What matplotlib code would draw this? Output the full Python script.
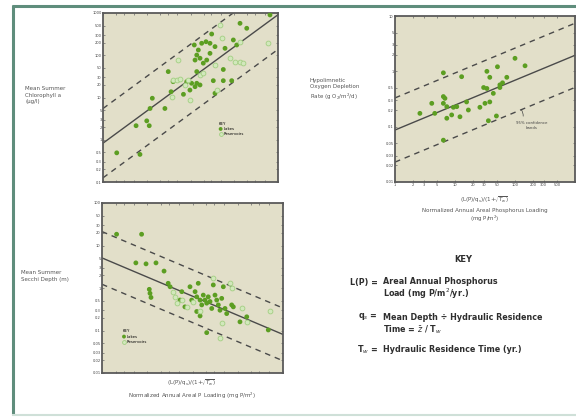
import matplotlib
matplotlib.use("Agg")
import matplotlib.pyplot as plt
import numpy as np
from matplotlib.lines import Line2D
from matplotlib.ticker import FixedLocator, FuncFormatter, NullLocator

# ---------------- data ----------------
# Panel 1: chlorophyll vs normalized loading
chl_lake_x = [2.06, 7.0, 5.7, 10, 11.4, 11.9, 13.4, 26, 31, 36, 40, 69, 82, 97, 106, 139, 127, 139,
              151, 122, 180, 226, 279, 305, 165, 196, 235, 279, 363, 332, 363, 562, 615, 562, 875,
              953, 1140, 1355, 1930, 6560, 139, 165, 127]
chl_lake_y = [0.49, 0.45, 2.15, 2.8, 2.15, 5.5, 9.6, 5.5, 41, 13.7, 23.7, 11.9, 23.7, 15, 21.7, 41, 77,
              101, 133, 175, 192, 209, 192, 318, 85, 65, 77, 111, 160, 25, 12.6, 25, 146, 46, 25,
              230, 175, 570, 435, 900, 21.7, 19.8, 18]
chl_res_x = [53, 363, 473, 517, 800, 1040, 1355, 1610, 6010, 40, 48, 58, 37, 97, 165, 196, 397, 1355, 75, 89]
chl_res_y = [77, 59, 520, 252, 85, 70, 70, 65, 192, 26, 26, 28, 10.4, 8.7, 34, 37, 15, 209, 19.8, 26]
chl_coef, chl_exp, chl_band = 0.83, 0.76, 0.82

# Panel 2: hypolimnetic oxygen depletion rate
hod_x = [2.6, 4.1, 4.6, 6.4, 6.4, 6.8, 6.4, 7.3, 7.3, 8.8, 9.4, 10.7, 12.1, 12.9, 15.6, 16.7, 26,
         31.6, 38, 34, 30, 34, 38, 51, 43.5, 56, 56, 62, 73, 100, 147, 6.4, 36, 49]
hod_y = [0.174, 0.264, 0.174, 0.94, 0.35, 0.325, 0.264, 0.23, 0.142, 0.163, 0.224, 0.23, 0.151, 0.80,
         0.28, 0.20, 0.224, 0.264, 0.28, 1.0, 0.51, 0.49, 0.78, 1.21, 0.40, 0.51, 0.57, 0.62, 0.78,
         1.72, 1.26, 0.057, 0.128, 0.156]
hod_coef, hod_exp, hod_band = 0.087, 0.45, 0.58

# Panel 3: Secchi depth
sec_lake_x = [2.1, 7.5, 5.6, 9.4, 15.6, 23.5, 29, 32, 11.1, 11.5, 12.1, 58, 68, 88, 114, 124, 134, 147,
              160, 173, 189, 206, 223, 244, 266, 288, 314, 343, 372, 405, 442, 480, 523, 570, 735,
              798, 1580, 1120, 4730, 206, 124, 147, 96, 53]
sec_lake_y = [18.4, 18.4, 3.9, 3.7, 3.9, 2.5, 1.29, 1.07, 0.93, 0.75, 0.60, 0.82, 0.36, 1.07, 0.82, 0.62,
              1.29, 0.52, 0.40, 0.68, 0.52, 0.44, 0.62, 0.48, 0.33, 1.18, 0.68, 0.52, 0.40, 0.30, 0.57,
              1.07, 0.33, 0.25, 0.40, 0.36, 0.21, 0.16, 0.103, 0.089, 0.28, 0.22, 0.52, 0.52]
sec_res_x = [36.5, 41, 45, 58, 74, 288, 674, 735, 442, 405, 1220, 1580, 5160, 147, 104]
sec_res_y = [0.82, 0.62, 0.44, 0.52, 0.36, 1.69, 1.29, 0.98, 0.148, 0.066, 0.33, 0.16, 0.28, 0.28, 0.48]
sec_coef, sec_exp, sec_band = 5.1, -0.45, 0.62

# tick labels
subs_labels = [1, 2, 3, 5]

# ---------------- style ----------------
BG = "#e2dfc9"
LAKE = "#5c9e22"
RES_EDGE = "#a3cf82"
RES_FACE = "#d2e8bc"
LINEC = "#4a4a4a"
TXT = "#555555"

fig = plt.figure(figsize=(5.76, 4.17), dpi=100)
fig.patch.set_facecolor("white")

W, H = 576.0, 417.0


def px_axes(x0, y0, x1, y1):
    return fig.add_axes([x0 / W, 1 - y1 / H, (x1 - x0) / W, (y1 - y0) / H])


def fmt(v, pos):
    return "%g" % v


def style_log_axes(ax, xlim, ylim, xlabels=False):
    ax.set_facecolor(BG)
    ax.set_xscale("log")
    ax.set_yscale("log")
    ax.set_xlim(*xlim)
    ax.set_ylim(*ylim)
    for sp in ax.spines.values():
        sp.set_color("#5a5a5a")
        sp.set_linewidth(1.3)
    def ticks(lo, hi):
        out = []
        for e in range(int(np.floor(np.log10(lo))), int(np.ceil(np.log10(hi))) + 1):
            for s in subs_labels:
                v = s * 10.0 ** e
                if lo * 0.999 <= v <= hi * 1.001:
                    out.append(v)
        return out
    ax.xaxis.set_major_locator(FixedLocator(ticks(*xlim)))
    ax.yaxis.set_major_locator(FixedLocator(ticks(*ylim)))
    ax.xaxis.set_minor_locator(NullLocator())
    ax.yaxis.set_minor_locator(NullLocator())
    ax.yaxis.set_major_formatter(FuncFormatter(fmt))
    if xlabels:
        ax.xaxis.set_major_formatter(FuncFormatter(
            lambda v, p: "" if v >= xlim[1] * 0.999 else "%g" % v))
    else:
        ax.xaxis.set_major_formatter(FuncFormatter(lambda v, p: ""))
    ax.tick_params(which="both", direction="in", length=1.5, width=0.5, colors="#666666",
                   labelsize=2.6, labelcolor="#444444", pad=1, top=True, right=True)


def reg_lines(ax, xlim, coef, expo, band):
    xs = np.logspace(np.log10(xlim[0]), np.log10(xlim[1]), 50)
    yfit = coef * xs ** expo
    ax.plot(xs, yfit, color=LINEC, lw=1.0, zorder=2)
    for f in (10 ** band, 10 ** -band):
        ax.plot(xs, yfit * f, color=LINEC, lw=1.0, ls=(0, (4, 3.5)), zorder=2)


# ---------------- Panel 1 ----------------
ax1 = px_axes(103, 13, 278, 182)
xl1, yl1 = (1, 10000), (0.1, 1000)
style_log_axes(ax1, xl1, yl1)
reg_lines(ax1, xl1, chl_coef, chl_exp, chl_band)
ax1.scatter(chl_lake_x, chl_lake_y, s=12, color=LAKE, edgecolors="none", zorder=3, label="Lakes")
ax1.scatter(chl_res_x, chl_res_y, s=12, facecolors=RES_FACE, edgecolors=RES_EDGE, linewidths=0.6,
            zorder=3, label="Reservoirs")
leg1 = ax1.legend(loc="upper left", bbox_to_anchor=(0.65, 0.37), frameon=False, fontsize=2.8,
                  title="KEY", title_fontsize=2.8, handletextpad=0.3, borderpad=0.1,
                  labelspacing=0.3, markerscale=0.8, handlelength=0.8)
leg1._legend_box.align = "left"
fig.text(25 / W, 1 - 95 / H, "Mean Summer\nChlorophyll a\n(µg/l)", fontsize=4, color=TXT,
         ha="left", va="center", linespacing=1.3)

# ---------------- Panel 2 ----------------
ax2 = px_axes(395, 16, 575, 182)
xl2, yl2 = (1, 1000), (0.01, 10)
style_log_axes(ax2, xl2, yl2, xlabels=True)
reg_lines(ax2, xl2, hod_coef, hod_exp, hod_band)
ax2.scatter(hod_x, hod_y, s=12, color=LAKE, edgecolors="none", zorder=3)
ax2.text(0.76, 0.34, "95% confidence\nbands", transform=ax2.transAxes, fontsize=2.8,
         color="#444444", ha="center", va="center", linespacing=1.2)
ax2.annotate("", xy=(0.69, 0.45), xytext=(0.71, 0.38), xycoords="axes fraction",
             arrowprops=dict(arrowstyle="-", color="#444444", lw=0.5,
                             connectionstyle="arc3,rad=0.3"))
fig.text(310 / W, 1 - 90 / H, "Hypolimnetic\nOxygen Depletion\nRate (g O$_2$/m$^2$/d)", fontsize=4,
         color=TXT, ha="left", va="center", linespacing=1.3)
fig.text(485 / W, 1 - 200 / H, r"(L(P)/q$_s$)/(1+$\sqrt{T_w}$)", fontsize=4, color=TXT,
         ha="center", va="center")
fig.text(485 / W, 1 - 216 / H, "Normalized Annual Areal Phosphorus Loading\n(mg P/m$^2$)",
         fontsize=4, color=TXT, ha="center", va="center", linespacing=1.2)

# ---------------- Panel 3 ----------------
ax3 = px_axes(102, 203, 283, 373)
xl3, yl3 = (1, 10000), (0.01, 100)
style_log_axes(ax3, xl3, yl3)
reg_lines(ax3, xl3, sec_coef, sec_exp, sec_band)
ax3.scatter(sec_lake_x, sec_lake_y, s=12, color=LAKE, edgecolors="none", zorder=3, label="Lakes")
ax3.scatter(sec_res_x, sec_res_y, s=12, facecolors=RES_FACE, edgecolors=RES_EDGE, linewidths=0.6,
            zorder=3, label="Reservoirs")
leg3 = ax3.legend(loc="upper left", bbox_to_anchor=(0.1, 0.27), frameon=False, fontsize=2.8,
                  title="KEY", title_fontsize=2.8, handletextpad=0.3, borderpad=0.1,
                  labelspacing=0.3, markerscale=0.8, handlelength=0.8)
leg3._legend_box.align = "left"
fig.text(21 / W, 1 - 276 / H, "Mean Summer\nSecchi Depth (m)", fontsize=4, color=TXT,
         ha="left", va="center", linespacing=1.3)
fig.text(192 / W, 1 - 383 / H, r"(L(P)/q$_s$)/(1+$\sqrt{T_w}$)", fontsize=4, color=TXT,
         ha="center", va="center")
fig.text(192 / W, 1 - 396 / H, "Normalized Annual Areal P Loading (mg P/m$^2$)", fontsize=4,
         color=TXT, ha="center", va="center")

# ---------------- Key block ----------------
KC = "#2e2e2e"
KF = 5.8
fig.text(463 / W, 1 - 260 / H, "KEY", fontsize=6, fontweight="bold", color=KC, ha="center", va="center")
fig.text(378 / W, 1 - 282 / H, "L(P) =", fontsize=KF, fontweight="bold", color=KC, ha="right", va="center")
fig.text(383 / W, 1 - 282 / H, "Areal Annual Phosphorus", fontsize=KF, fontweight="bold",
         color=KC, ha="left", va="center")
fig.text(383 / W, 1 - 294 / H, "Load (mg P/m$^2$/yr.)", fontsize=KF, fontweight="bold",
         color=KC, ha="left", va="center")
fig.text(378 / W, 1 - 317 / H, "q$_s$ =", fontsize=KF, fontweight="bold", color=KC, ha="right", va="center")
fig.text(383 / W, 1 - 317 / H, "Mean Depth ÷ Hydraulic Residence", fontsize=KF, fontweight="bold",
         color=KC, ha="left", va="center")
fig.text(383 / W, 1 - 330 / H, r"Time = $\bar{z}$ / T$_w$", fontsize=KF, fontweight="bold",
         color=KC, ha="left", va="center")
fig.text(378 / W, 1 - 350 / H, "T$_w$ =", fontsize=KF, fontweight="bold", color=KC, ha="right", va="center")
fig.text(383 / W, 1 - 350 / H, "Hydraulic Residence Time (yr.)", fontsize=KF, fontweight="bold",
         color=KC, ha="left", va="center")

# ---------------- outer frame ----------------
FR = "#5f8d7c"
fig.add_artist(Line2D([13 / W, 13 / W], [1 - 5 / H, 1 - 415 / H], color=FR, lw=2.2,
                      transform=fig.transFigure, solid_capstyle="butt"))
fig.add_artist(Line2D([12 / W, 1.0], [1 - 6 / H, 1 - 6 / H], color=FR, lw=2.2,
                      transform=fig.transFigure, solid_capstyle="butt"))
fig.add_artist(Line2D([12 / W, 1.0], [1 - 415 / H, 1 - 415 / H], color="#cfe0d8", lw=1.5,
                      transform=fig.transFigure, solid_capstyle="butt"))

fig.savefig("out.png", dpi=100)
